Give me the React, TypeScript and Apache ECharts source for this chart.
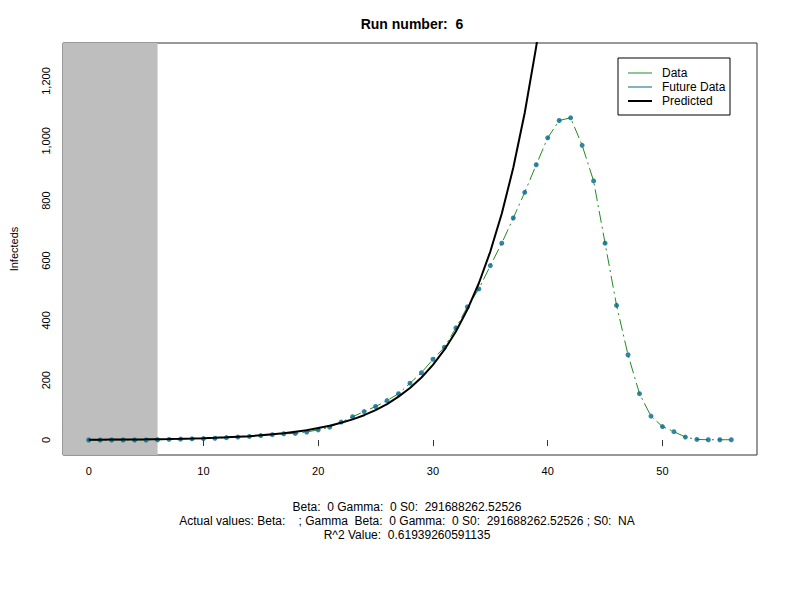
import React, { useEffect, useRef } from 'react';
import * as echarts from 'echarts';

const days = Array.from({ length: 57 }, (_, i) => i);
const infected = [
  0, 0, 0, 0, 0, 0, 1, 2, 3, 4, 5, 6, 8, 10, 12, 15, 18, 21, 22, 27,
  34, 43, 60, 78, 95, 112, 132, 155, 190, 225, 270, 310, 375, 445, 505, 583, 658, 742, 828, 920,
  1010, 1068, 1077, 985, 866, 658, 450, 285, 155, 80, 45, 28, 10, 2, 1, 1, 1,
];
const predicted = [
  1.0, 1.2, 1.4, 1.7, 2.1, 2.5, 3.0, 3.6, 4.3, 5.2, 6.2, 7.5, 9, 11, 13, 16, 19, 23, 28, 33,
  40, 48, 58, 69, 83, 100, 120, 145, 174, 209, 251, 302, 363, 436, 524, 630, 757, 910, 1094, 1315, 1580,
];
const xTicks = [0, 10, 20, 30, 40, 50];
const yTicks = [0, 200, 400, 600, 800, 1000, 1200];
const trainEnd = 6;
const footer = [
  'Beta:  0 Gamma:  0 S0:  291688262.52526',
  'Actual values: Beta:    ; Gamma  Beta:  0 Gamma:  0 S0:  291688262.52526 ; S0:  NA',
  'R^2 Value:  0.61939260591135',
];

const font = 'Liberation Sans, Arial, sans-serif';

export default function App() {
  const ref = useRef<HTMLDivElement>(null);

  useEffect(() => {
    if (!ref.current) return;
    const chart = echarts.init(ref.current, null, { renderer: 'svg' });
    const legendItems = [
      { name: 'Data', color: '#228B22', w: 1 },
      { name: 'Future Data', color: '#00688B', w: 1 },
      { name: 'Predicted', color: '#000000', w: 2 },
    ];
    chart.setOption({
      animation: false,
      textStyle: { fontFamily: font },
      title: {
        text: 'Run number:  6',
        left: 407,
        top: 12,
        textAlign: 'center',
        textStyle: { fontSize: 14, fontWeight: 'bold', color: '#000', fontFamily: font },
      },
      grid: {
        left: 58, right: 43, top: 43, bottom: 145,
        show: true, borderColor: '#333', borderWidth: 1, backgroundColor: 'transparent',
      },
      xAxis: {
        type: 'value', min: -2.24, max: 58.24,
        axisLine: { show: false },
        splitLine: { show: false },
        axisTick: { show: true, length: 6, inside: false, customValues: xTicks, lineStyle: { color: '#333' } },
        axisLabel: { customValues: xTicks, color: '#000', fontSize: 11, margin: 10 },
      },
      yAxis: {
        type: 'value', min: -50, max: 1327,
        name: 'Infecteds', nameLocation: 'middle', nameGap: 44, nameRotate: 90,
        nameTextStyle: { color: '#000', fontSize: 11 },
        axisLine: { show: false },
        splitLine: { show: false },
        axisTick: { show: true, length: 6, customValues: yTicks, lineStyle: { color: '#333' } },
        axisLabel: { customValues: yTicks, rotate: 90, color: '#000', fontSize: 11, margin: 12 },
      },
      series: [
        {
          type: 'line',
          data: days.map((d, i) => [d, infected[i]]),
          symbol: 'none',
          lineStyle: { color: '#228B22', width: 1, type: [12, 4, 2, 4] },
          markArea: {
            silent: true,
            itemStyle: { color: '#bebebe' },
            data: [[{ xAxis: -2.24, yAxis: -50 }, { xAxis: trainEnd, yAxis: 1327 }]],
          },
          z: 2,
        },
        {
          type: 'scatter',
          data: days.map((d, i) => [d, infected[i]]),
          symbolSize: 5,
          itemStyle: { color: '#00688B' },
          z: 3,
        },
        {
          type: 'line',
          data: predicted.map((v, i) => [i, v]),
          symbol: 'none',
          clip: true,
          lineStyle: { color: '#000', width: 2 },
          z: 4,
        },
      ],
      graphic: [
        { type: 'rect', shape: { x: 618, y: 58, width: 112, height: 57 }, style: { fill: '#fff', stroke: '#000', lineWidth: 1 }, z: 10 },
        ...legendItems.flatMap((it, i) => [
          { type: 'line', shape: { x1: 628, y1: 73 + i * 14, x2: 652, y2: 73 + i * 14 }, style: { stroke: it.color, lineWidth: it.w }, z: 11 },
          { type: 'text', x: 662, y: 73 + i * 14, style: { text: it.name, fill: '#000', font: `12px ${font}`, textVerticalAlign: 'middle' }, z: 11 },
        ]),
        ...footer.map((t, i) => ({
          type: 'text', x: 407, y: 507 + i * 14,
          style: { text: t, fill: '#000', font: `12px ${font}`, textAlign: 'center', textVerticalAlign: 'middle' },
        })),
      ],
    });
    return () => chart.dispose();
  }, []);

  return <div ref={ref} style={{ width: 800, height: 600, position: 'absolute', left: 0, top: 0, background: '#fff' }} />;
}
